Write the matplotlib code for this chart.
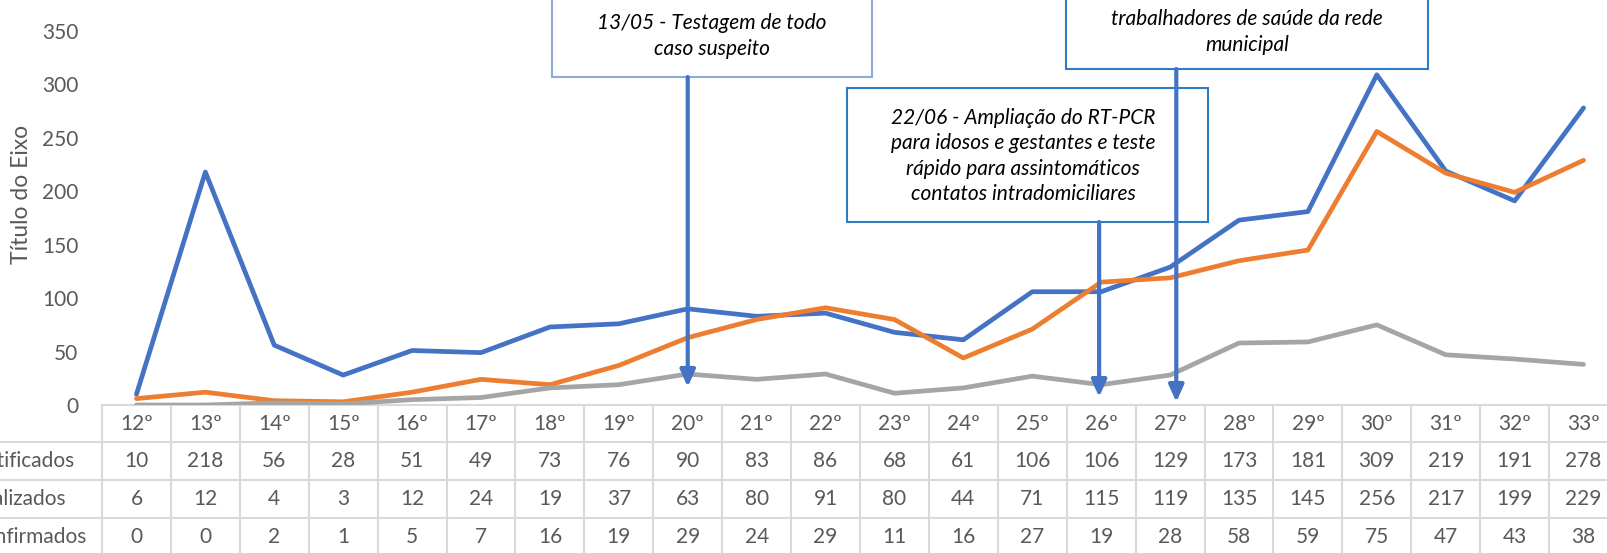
import matplotlib
matplotlib.use('Agg')
import matplotlib.pyplot as plt
from matplotlib.patches import Rectangle

plt.rcParams['font.family'] = ['Lato', 'DejaVu Sans']

# semanas epidemiologicas
weeks = ['12º', '13º', '14º', '15º', '16º', '17º', '18º', '19º', '20º', '21º', '22º',
         '23º', '24º', '25º', '26º', '27º', '28º', '29º', '30º', '31º', '32º', '33º']
notificados = [10, 218, 56, 28, 51, 49, 73, 76, 90, 83, 86, 68, 61, 106, 106, 129, 173, 181, 309, 219, 191, 278]
realizados = [6, 12, 4, 3, 12, 24, 19, 37, 63, 80, 91, 80, 44, 71, 115, 119, 135, 145, 256, 217, 199, 229]
confirmados = [0, 0, 2, 1, 5, 7, 16, 19, 29, 24, 29, 11, 16, 27, 19, 28, 58, 59, 75, 47, 43, 38]

row_names = ['Notificados', 'Realizados', 'Confirmados']
series = [notificados, realizados, confirmados]
colors = ['#4472C4', '#ED7D31', '#A5A5A5']

# eventos: (posicao x da seta, y da ponta, texto)
ev_x = [8.0, 13.97, 15.09]
ev_tip = [16.9, 7.5, 2.8]
ev_text = ['13/05 - Testagem de todo\ncaso suspeito',
           '22/06 - Ampliação do RT-PCR\npara idosos e gestantes e teste\nrápido para assintomáticos\ncontatos intradomiciliares',
           'trabalhadores de saúde da rede\nmunicipal']

W, H = 1608, 553
fig = plt.figure(figsize=(W / 100, H / 100), dpi=100)

def fx(px):
    return px / W

def fy(py):
    return 1 - py / H

ax = fig.add_axes([fx(102), fy(405), fx(1618) - fx(102), fy(31) - fy(405)])
ax.set_xlim(-0.5, len(weeks) - 0.5)
ax.set_ylim(0, 350)
ax.set_yticks(range(0, 351, 50))
ax.set_xticks([])
ax.tick_params(axis='y', length=0, pad=17, labelsize=15, labelcolor='#595959')
for s in ['left', 'right', 'top', 'bottom']:
    ax.spines[s].set_visible(False)
fig.text(fx(22), fy(194), 'Título do Eixo', rotation=90, ha='center', va='center',
         fontsize=16.5, color='#595959')

x = list(range(len(weeks)))
for vals, c in zip(series, colors):
    ax.plot(x, vals, color=c, lw=3.4, solid_capstyle='round', solid_joinstyle='round', zorder=2)

# tabela de dados
grid = '#D9D9D9'
tr = ax.get_xaxis_transform()
row_top = [405, 442, 480, 518, 556]
for i in range(len(weeks) + 1):
    ax.plot([i - 0.5, i - 0.5], [0, (405 - 560) / 374], transform=tr,
            color=grid, lw=1.5, clip_on=False, zorder=1)
ax.plot([-0.5, len(weeks) - 0.5], [0, 0], transform=tr, color=grid, lw=1.5, clip_on=False, zorder=1)
for yp in row_top[1:4]:
    fig.add_artist(plt.Line2D([0, 1], [fy(yp), fy(yp)], color=grid, lw=1.5))

def row_center(k):
    return (405 - (row_top[k] + row_top[k + 1]) / 2) / 374

for i, w in enumerate(weeks):
    ax.text(i, row_center(0), w, transform=tr, ha='center', va='center', fontsize=15,
            color='#595959', clip_on=False)
    for k, vals in enumerate(series):
        ax.text(i, row_center(k + 1), str(vals[i]), transform=tr, ha='center', va='center',
                fontsize=15, color='#595959', clip_on=False)
# rotulos das linhas (cortados na borda esquerda, como no original)
for k, name in enumerate(row_names):
    fig.text(fx(-31), fy((row_top[k + 1] + row_top[k + 2]) / 2), name, ha='left', va='center',
             fontsize=15, color='#595959')

# caixas de texto
boxes = [(552, -20, 872, 77, '#8FAADC'), (847, 88, 1208, 222, '#2E7BC6'), (1066, -20, 1428, 69, '#2E7BC6')]
text_pos = [(712, 36), (1023, 156), (1247, 32)]
for (x0, y0, x1, y1, bc), (tx, ty), t in zip(boxes, text_pos, ev_text):
    r = Rectangle((fx(x0), fy(y1)), fx(x1) - fx(x0), fy(y0) - fy(y1), transform=fig.transFigure,
                  facecolor='white', edgecolor=bc, lw=1.5, clip_on=False, zorder=3)
    ax.add_patch(r)
    ax.text(fx(tx), fy(ty), t, transform=fig.transFigure, ha='center', va='center', fontsize=15,
            style='italic', color='black', linespacing=1.35, zorder=4, clip_on=False)

# setas
starts = [77, 222, 69]
for xe, tip, sp in zip(ev_x, ev_tip, starts):
    ys = (405 - sp) * 50 / 53.43
    ax.annotate('', xy=(xe, tip), xytext=(xe, ys),
                arrowprops=dict(arrowstyle='-|>,head_length=1.0,head_width=0.45', color='#4472C4',
                                lw=3, shrinkA=0, shrinkB=0),
                annotation_clip=False, zorder=5)

fig.savefig('out.png', dpi=100)
